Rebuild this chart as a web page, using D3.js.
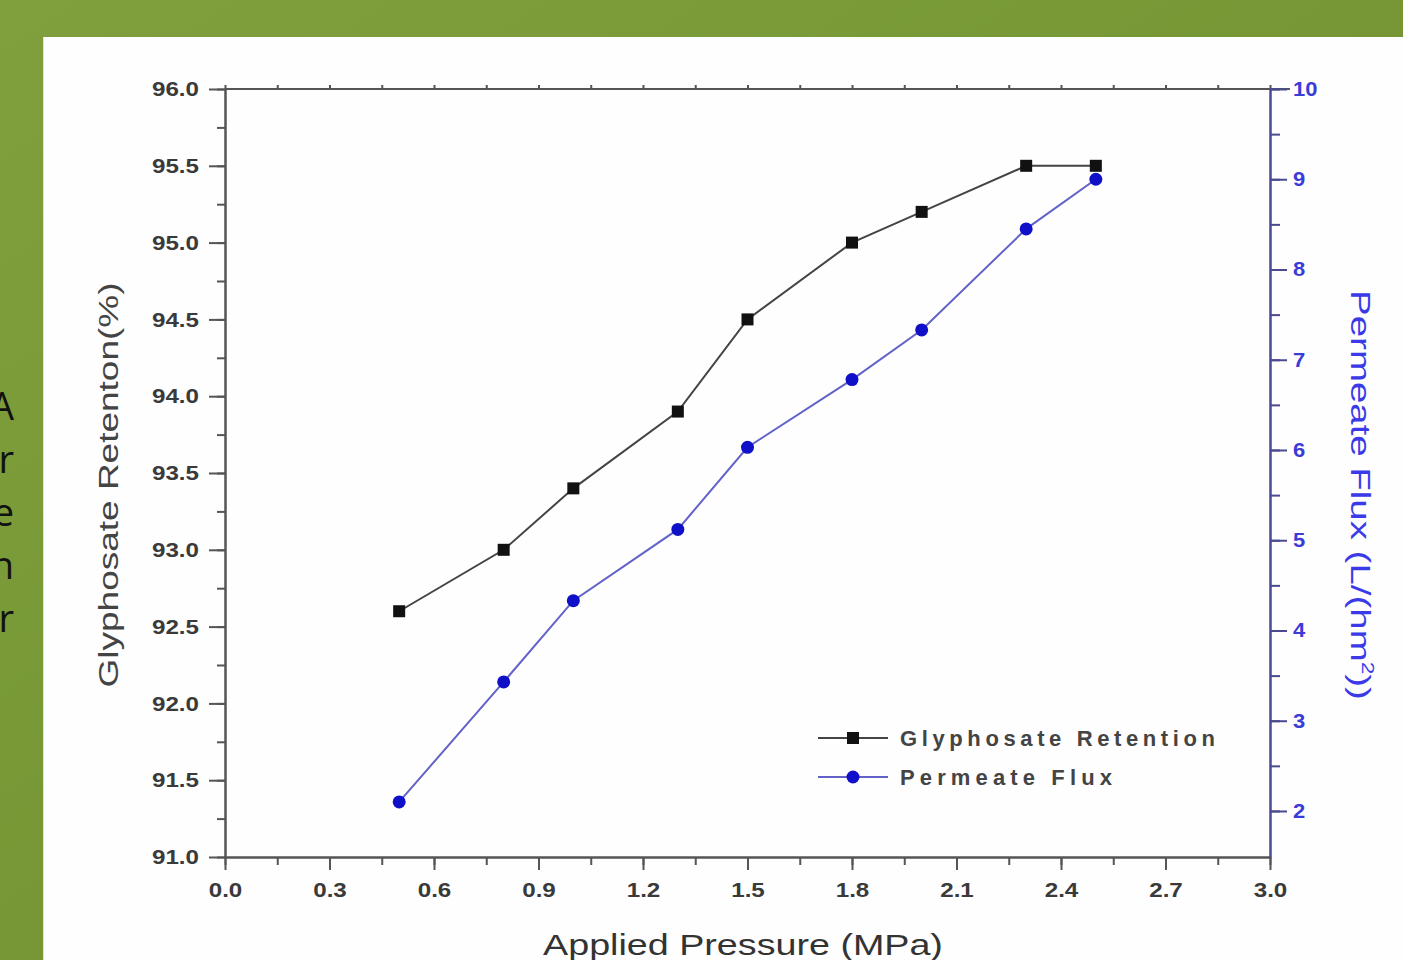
<!DOCTYPE html>
<html><head><meta charset="utf-8">
<script src="https://cdn.jsdelivr.net/npm/d3@7"></script>
<style>body{margin:0;overflow:hidden;background:#789838}</style>
</head><body>
<svg id="c" width="1403" height="960"></svg>
<script>
const pressure = [0.5, 0.8, 1.0, 1.3, 1.5, 1.8, 2.0, 2.3, 2.5];
const retention = [92.6, 93.0, 93.4, 93.9, 94.5, 95.0, 95.2, 95.5, 95.5];
const flux = [2.1, 3.43, 4.33, 5.12, 6.03, 6.78, 7.33, 8.45, 9.0];
const xTicks = [0.0, 0.3, 0.6, 0.9, 1.2, 1.5, 1.8, 2.1, 2.4, 2.7, 3.0];
const yLeftTicks = [91.0, 91.5, 92.0, 92.5, 93.0, 93.5, 94.0, 94.5, 95.0, 95.5, 96.0];
const yRightTicks = [2, 3, 4, 5, 6, 7, 8, 9, 10];
const sideLetters = ["A", "r", "e", "n", "r"];
const seriesNames = ["Glyphosate Retention", "Permeate Flux"];

const svg = d3.select("#c");
const defs = svg.append("defs");
const g1 = defs.append("linearGradient").attr("id","bg").attr("x1","0").attr("y1","0").attr("x2","1").attr("y2","1");
g1.append("stop").attr("offset","0").attr("stop-color","#7fa03c");
g1.append("stop").attr("offset","1").attr("stop-color","#6f8e30");
svg.append("rect").attr("width",1403).attr("height",960).attr("fill","url(#bg)");
svg.append("rect").attr("x",43).attr("y",37).attr("width",1360).attr("height",923).attr("fill","#fefefe");
svg.append("line").attr("x1",43.5).attr("x2",43.5).attr("y1",37).attr("y2",960).attr("stroke","#dfe8cf").attr("stroke-width",1);

// side letters (clipped slide text)
svg.selectAll("text.side").data(sideLetters).join("text").attr("class","side")
  .attr("x",14).attr("y",(d,i)=>420+i*53)
  .attr("text-anchor","end").attr("font-family","'Open Sans', sans-serif")
  .attr("font-size",38).attr("fill","#111").text(d=>d);

const L=225, R=1270, T=89, B=857;
const x = d3.scaleLinear().domain([0,3]).range([L,R]);
const yL = d3.scaleLinear().domain([91,96]).range([B,T]);
const yR = d3.scaleLinear().domain([1.49,10]).range([B,T]);

const gray="#555", labelCol="#3a3a3a", blueAx="#4a4a90", blueTxt="#3b3bd8";
const font="'Liberation Sans', Arial, sans-serif";

function stretch(sel, k){
  sel.each(function(){
    const w = this.getComputedTextLength();
    d3.select(this).attr("textLength", w*k).attr("lengthAdjust","spacingAndGlyphs");
  });
}

// top frame
svg.append("line").attr("x1",L).attr("x2",R+20).attr("y1",T).attr("y2",T).attr("stroke",gray).attr("stroke-width",2);

// bottom axis
const xMinor = d3.range(0,3.0001,0.15);
const gx = svg.append("g").attr("transform",`translate(0,${B})`);
gx.call(d3.axisBottom(x).tickValues(xMinor).tickSize(8).tickSizeOuter(0).tickFormat(""));
gx.selectAll(".tick line").attr("stroke",gray).attr("stroke-width",2);
gx.select(".domain").attr("stroke",gray).attr("stroke-width",2.5);
const gx2 = svg.append("g").attr("transform",`translate(0,${B})`);
gx2.call(d3.axisBottom(x).tickValues(xTicks).tickSize(13).tickSizeOuter(0).tickPadding(12).tickFormat(d3.format(".1f")));
gx2.select(".domain").remove();
gx2.selectAll(".tick line").attr("stroke",gray).attr("stroke-width",2);
gx2.selectAll("text").attr("font-family",font).attr("font-size",21).attr("font-weight","bold").attr("fill",labelCol);
stretch(gx2.selectAll("text"),1.15);

// top axis ticks
const gt = svg.append("g").attr("transform",`translate(0,${T})`);
gt.call(d3.axisTop(x).tickValues(xMinor).tickSize(4).tickSizeOuter(0).tickFormat(""));
gt.selectAll("line").attr("stroke",gray).attr("stroke-width",2);
gt.select(".domain").remove();

// left axis
const yLMinor = d3.range(91,96.001,0.25);
const gl = svg.append("g").attr("transform",`translate(${L},0)`);
gl.call(d3.axisLeft(yL).tickValues(yLMinor).tickSize(8).tickSizeOuter(0).tickFormat(""));
gl.selectAll("line").attr("stroke",gray).attr("stroke-width",2);
gl.select(".domain").attr("stroke",gray).attr("stroke-width",2.5);
const gl2 = svg.append("g").attr("transform",`translate(${L},0)`);
gl2.call(d3.axisLeft(yL).tickValues(yLeftTicks).tickSize(16).tickSizeOuter(0).tickPadding(10).tickFormat(d3.format(".1f")));
gl2.select(".domain").remove();
gl2.selectAll("line").attr("stroke",gray).attr("stroke-width",2);
gl2.selectAll("text").attr("font-family",font).attr("font-size",21).attr("font-weight","bold").attr("fill",labelCol);
stretch(gl2.selectAll("text"),1.15);

// right axis
const yRMinor = d3.range(2,10.001,0.5);
const gr = svg.append("g").attr("transform",`translate(${R},0)`);
gr.call(d3.axisRight(yR).tickValues(yRMinor).tickSize(10).tickSizeOuter(0).tickFormat(""));
gr.selectAll("line").attr("stroke",blueAx).attr("stroke-width",2);
gr.select(".domain").attr("stroke",blueAx).attr("stroke-width",2.5);
const gr2 = svg.append("g").attr("transform",`translate(${R},0)`);
gr2.call(d3.axisRight(yR).tickValues(yRightTicks).tickSize(17).tickSizeOuter(0).tickPadding(6).tickFormat(d3.format("d")));
gr2.select(".domain").remove();
gr2.selectAll("line").attr("stroke",blueAx).attr("stroke-width",2);
gr2.selectAll("text").attr("font-family",font).attr("font-size",20).attr("font-weight","bold").attr("fill",blueTxt);
stretch(gr2.selectAll("text"),1.1);

// axis titles (scaled along reading direction)
function fitTitle(node, target){
  return target / node.getComputedTextLength();
}
const lt = svg.append("text").attr("text-anchor","middle")
  .attr("font-family",font).attr("font-size",27).attr("fill","#444").text("Glyphosate Retenton(%)");
lt.attr("transform",`translate(118,485) rotate(-90) scale(${fitTitle(lt.node(),405)},1)`);

const rt = svg.append("text").attr("text-anchor","middle")
  .attr("font-family",font).attr("font-size",27).attr("fill","#3a3ae8");
rt.append("tspan").text("Permeate Flux (L/(hm");
rt.append("tspan").attr("font-size",16).attr("dy",-11).text("2");
rt.append("tspan").attr("dy",11).text("))");
rt.attr("transform",`translate(1351,495) rotate(90) scale(${fitTitle(rt.node(),410)},1)`);

const bt = svg.append("text").attr("text-anchor","middle")
  .attr("font-family",font).attr("font-size",29).attr("fill","#333").text("Applied Pressure (MPa)");
bt.attr("transform",`translate(743,955) scale(${fitTitle(bt.node(),400)},1)`);

// series
const ret = pressure.map((p,i)=>[p,retention[i]]);
const fl = pressure.map((p,i)=>[p,flux[i]]);
svg.append("path").datum(ret).attr("fill","none").attr("stroke","#444").attr("stroke-width",2)
  .attr("d",d3.line().x(d=>x(d[0])).y(d=>yL(d[1])));
svg.append("path").datum(fl).attr("fill","none").attr("stroke","#6262c8").attr("stroke-width",2)
  .attr("d",d3.line().x(d=>x(d[0])).y(d=>yR(d[1])));
svg.selectAll("rect.m").data(ret).join("rect").attr("class","m")
  .attr("x",d=>x(d[0])-6).attr("y",d=>yL(d[1])-6).attr("width",12).attr("height",12).attr("fill","#111");
svg.selectAll("circle.m").data(fl).join("circle").attr("class","m")
  .attr("cx",d=>x(d[0])).attr("cy",d=>yR(d[1])).attr("r",6.5).attr("fill","#1010c8");

// legend
const lg = svg.append("g");
const ly = [738, 777];
const lw = [315, 212];
lg.selectAll("line.l").data(seriesNames).join("line").attr("class","l")
  .attr("x1",818).attr("x2",888).attr("y1",(d,i)=>ly[i]).attr("y2",(d,i)=>ly[i])
  .attr("stroke",(d,i)=>i?"#6262c8":"#444").attr("stroke-width",2);
lg.append("rect").attr("x",847).attr("y",ly[0]-6).attr("width",12).attr("height",12).attr("fill","#111");
lg.append("circle").attr("cx",853).attr("cy",ly[1]).attr("r",6.5).attr("fill","#1010c8");
lg.selectAll("text").data(seriesNames).join("text")
  .attr("x",900).attr("y",(d,i)=>ly[i]+8).attr("font-family",font).attr("font-size",22)
  .attr("font-weight","bold").attr("fill","#444").text(d=>d)
  .attr("textLength",(d,i)=>lw[i]).attr("lengthAdjust","spacing");
</script>
</body></html>
